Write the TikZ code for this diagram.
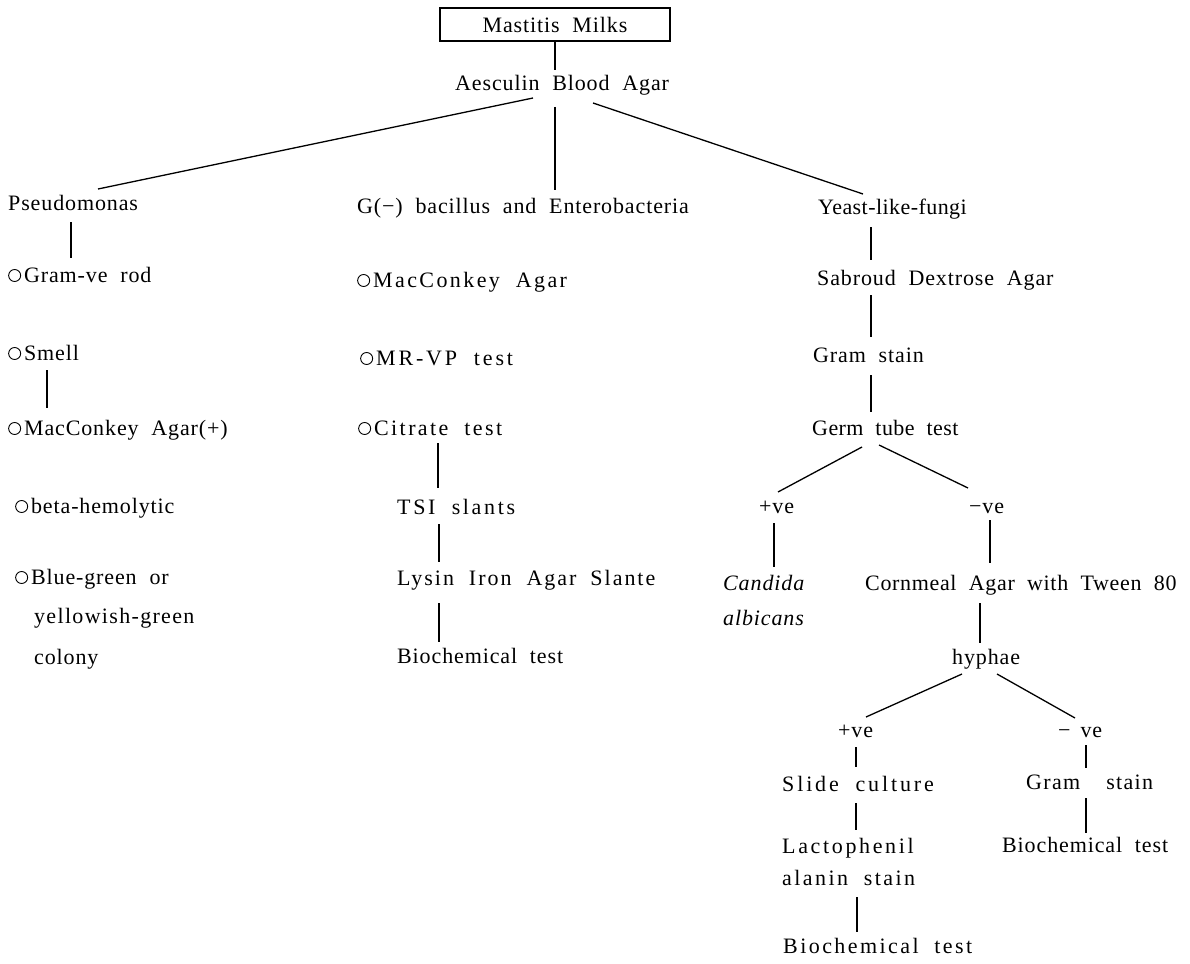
\documentclass[tikz,border=0pt]{standalone}
\usepackage{fontspec}
\setmainfont{Liberation Serif}[LetterSpace=4,WordSpace=2]
\usetikzlibrary{calc}
\newcommand{\ring}{\tikz[baseline=-6.5pt]\draw[line width=0.9pt] (0,0) circle (6pt);\hspace{3pt}}
\newcommand{\ls}[1]{\addfontfeatures{LetterSpace=#1}}
\begin{document}
\begin{tikzpicture}[x=1pt,y=-1pt,
  lbl/.style={inner sep=0pt, anchor=west, font=\fontsize{22}{26}\selectfont, text height=15pt, text depth=5pt},
  ln/.style={line width=1.3pt}]
\useasboundingbox (0,0) rectangle (1190,963);
\node[draw, line width=1.2pt, minimum width=230pt, minimum height=33pt, inner sep=0pt, font=\fontsize{22}{26}\selectfont] (mm) at (555,24.5) {Mastitis Milks};
\node[lbl] (aba) at (455,86) {Aesculin Blood Agar};
% left column
\node[lbl] (pse) at (8,205) {Pseudomonas};
\node[lbl] (g1) at (8,277) {\ring Gram-ve rod};
\node[lbl] (sm) at (8,355) {\ring Smell};
\node[lbl] (mc1) at (8,430) {\ring MacConkey Agar(+)};
\node[lbl] (bh) at (15,508) {\ring beta-hemolytic};
\node[lbl] (bg1) at (15,579) {\ring Blue-green or};
\node[lbl] (bg2) at (34,618) {\ls{6}yellowish-green};
\node[lbl] (bg3) at (34,659) {colony};
% middle column
\node[lbl] (gbac) at (357,208) {G(−) bacillus and Enterobacteria};
\node[lbl] (mc2) at (357,282) {\ring{\ls{11}MacConkey Agar}};
\node[lbl] (mr) at (360,360) {\ring{\ls{13}MR-VP test}};
\node[lbl] (ci) at (358,430) {\ring{\ls{11}Citrate test}};
\node[lbl] (tsi) at (397,509) {\ls{12}TSI slants};
\node[lbl] (lys) at (397,580) {\ls{9}Lysin Iron Agar\hspace{14pt}Slante};
\node[lbl] (bio1) at (397,658) {Biochemical test};
% right column
\node[lbl] (ye) at (818,209) {\ls{2}Yeast-like-fungi};
\node[lbl] (sab) at (817,280) {Sabroud Dextrose Agar};
\node[lbl] (gs) at (813,357) {Gram stain};
\node[lbl] (gt) at (812,430) {\ls{2}Germ tube test};
\node[lbl] (pv) at (759,508) {+ve};
\node[lbl] (nv) at (969,508) {−ve};
\node[lbl] (ca1) at (723,585) {\itshape Candida};
\node[lbl] (ca2) at (723,620) {\itshape albicans};
\node[lbl] (corn) at (865,585) {\ls{3}Cornmeal Agar with Tween 80};
\node[lbl] (hy) at (952,659) {hyphae};
\node[lbl] (pv2) at (838,732) {+ve};
\node[lbl] (nv2) at (1058,732) {−\hspace{10pt}ve};
\node[lbl] (sl) at (782,786) {\ls{13}Slide culture};
\node[lbl] (gst) at (1026,784) {\ls{6}Gram\hspace{26pt}stain};
\node[lbl] (lac1) at (782,848) {\ls{12}Lactophenil};
\node[lbl] (lac2) at (782,880) {\ls{11}alanin stain};
\node[lbl] (bio2) at (1002,847) {Biochemical test};
\node[lbl] (bio3) at (783,948) {\ls{11}Biochemical test};
% connectors
\draw[ln] (mm.south) -- ($(aba.west)+(100,-16)$);
\draw[ln] ($(aba.west)+(78,12)$) -- ($(pse.west)+(90,-16)$);
\draw[ln] ($(aba.west)+(100,21)$) -- ($(gbac.west)+(198,-18)$);
\draw[ln] ($(aba.west)+(138,17)$) -- ($(ye.west)+(45,-15)$);
\draw[ln] ($(pse.west)+(63,17)$) -- ($(g1.west)+(63,-19)$);
\draw[ln] ($(sm.west)+(39,15)$) -- ($(mc1.west)+(39,-22)$);
\draw[ln] ($(ci.west)+(80,13)$) -- ($(tsi.west)+(41,-21)$);
\draw[ln] ($(tsi.west)+(42,15)$) -- ($(lys.west)+(42,-18)$);
\draw[ln] ($(lys.west)+(42,23)$) -- ($(bio1.west)+(42,-16)$);
\draw[ln] ($(ye.west)+(53,18)$) -- ($(sab.west)+(54,-20)$);
\draw[ln] ($(sab.west)+(54,15)$) -- ($(gs.west)+(58,-20)$);
\draw[ln] ($(gs.west)+(58,18)$) -- ($(gt.west)+(59,-18)$);
\draw[ln] ($(gt.west)+(50,17)$) -- ($(pv.west)+(19,-16)$);
\draw[ln] ($(gt.west)+(67,15)$) -- ($(nv.west)+(-1,-20)$);
\draw[ln] ($(pv.west)+(15,15)$) -- ($(ca1.west)+(51,-18)$);
\draw[ln] ($(nv.west)+(21,12)$) -- ($(corn.west)+(125,-22)$);
\draw[ln] ($(corn.west)+(115,18)$) -- ($(hy.west)+(28,-16)$);
\draw[ln] ($(hy.west)+(10,15)$) -- ($(pv2.west)+(28,-15)$);
\draw[ln] ($(hy.west)+(45,15)$) -- ($(nv2.west)+(17,-14)$);
\draw[ln] ($(pv2.west)+(18,15)$) -- ($(sl.west)+(74,-19)$);
\draw[ln] ($(nv2.west)+(28,13)$) -- ($(gst.west)+(60,-16)$);
\draw[ln] ($(sl.west)+(74,17)$) -- ($(lac1.west)+(74,-18)$);
\draw[ln] ($(gst.west)+(60,14)$) -- ($(bio2.west)+(84,-14)$);
\draw[ln] ($(lac2.west)+(75,17)$) -- ($(bio3.west)+(74,-16)$);
\end{tikzpicture}
\end{document}
